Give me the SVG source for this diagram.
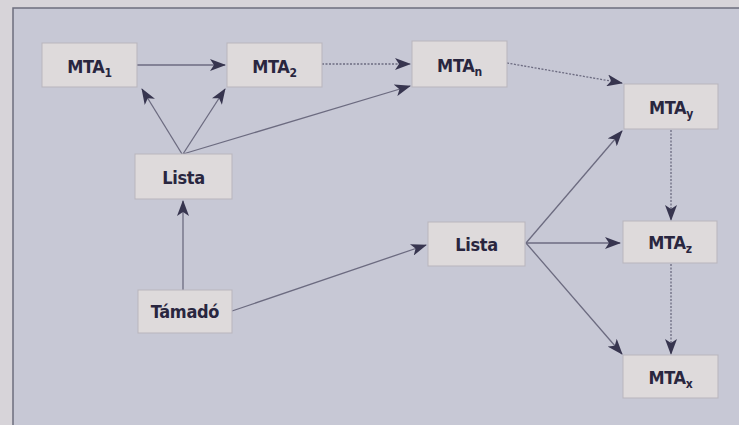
<svg xmlns="http://www.w3.org/2000/svg" width="739" height="425" viewBox="0 0 739 425">
<style>
.bg{fill:#d7d4d9}
.panel{fill:#c7c8d5}
.frame{stroke:#6e6e7e;stroke-width:1.5;fill:none}
.node rect{fill:#dedadb;stroke:#b9b5bd;stroke-width:1}
.node text{font-family:"DejaVu Sans Condensed","DejaVu Sans",sans-serif;font-stretch:condensed;font-weight:bold;font-size:18px;letter-spacing:-0.3px;fill:#29263f;text-anchor:middle}
.node tspan.sub{font-size:12px}
.edge{stroke:#6c6b80;stroke-width:1.3;fill:none;marker-end:url(#ah)}
.dot{stroke-dasharray:2 1.5}
</style>
<defs>
<marker id="ah" markerUnits="userSpaceOnUse" markerWidth="16" markerHeight="12" viewBox="0 0 16 12" refX="15" refY="6" orient="auto">
<path d="M0,0 L16,6 L0,12 L4,6 Z" fill="#37354f"/>
</marker>
</defs>
<rect class="bg" x="0" y="0" width="739" height="425"/>
<rect class="panel" x="13" y="8" width="726" height="417"/>
<path class="frame" d="M739,8 H13 V425"/>
<g id="connectors">
<line class="edge" x1="137" y1="65" x2="225" y2="65"/>
<line class="edge dot" x1="322" y1="64" x2="410" y2="64"/>
<line class="edge dot" x1="507" y1="63" x2="622" y2="83"/>
<line class="edge" x1="182" y1="154" x2="142" y2="89"/>
<line class="edge" x1="183" y1="154" x2="225" y2="89"/>
<line class="edge" x1="183" y1="154" x2="410" y2="86"/>
<line class="edge" x1="183" y1="290" x2="183" y2="201"/>
<line class="edge" x1="232" y1="311" x2="426" y2="245"/>
<line class="edge" x1="526" y1="243" x2="622" y2="131"/>
<line class="edge" x1="526" y1="243" x2="620" y2="243"/>
<line class="edge" x1="526" y1="243" x2="622" y2="354"/>
<line class="edge dot" x1="671" y1="130" x2="671" y2="220"/>
<line class="edge dot" x1="671" y1="264" x2="671" y2="354"/>
</g>
<g id="mta1" class="node"><rect x="42" y="43" width="95" height="44"/><text x="89.5" y="73">MTA<tspan class="sub" dy="4">1</tspan></text></g>
<g id="mta2" class="node"><rect x="227" y="43" width="95" height="44"/><text x="274.5" y="73">MTA<tspan class="sub" dy="4">2</tspan></text></g>
<g id="mtan" class="node"><rect x="412" y="41" width="95" height="46"/><text x="459.5" y="72">MTA<tspan class="sub" dy="4">n</tspan></text></g>
<g id="mtay" class="node"><rect x="624" y="84" width="94" height="45"/><text x="671" y="114">MTA<tspan class="sub" dy="4">y</tspan></text></g>
<g id="lista1" class="node"><rect x="135" y="154" width="97" height="45"/><text x="183.5" y="184">Lista</text></g>
<g id="tamado" class="node"><rect x="138" y="290" width="94" height="43"/><text x="185" y="318">Támadó</text></g>
<g id="lista2" class="node"><rect x="428" y="222" width="97" height="44"/><text x="476.5" y="251">Lista</text></g>
<g id="mtaz" class="node"><rect x="623" y="221" width="94" height="42"/><text x="670" y="249">MTA<tspan class="sub" dy="4">z</tspan></text></g>
<g id="mtax" class="node"><rect x="623" y="355" width="95" height="43"/><text x="670.5" y="384">MTA<tspan class="sub" dy="4">x</tspan></text></g>
</svg>
